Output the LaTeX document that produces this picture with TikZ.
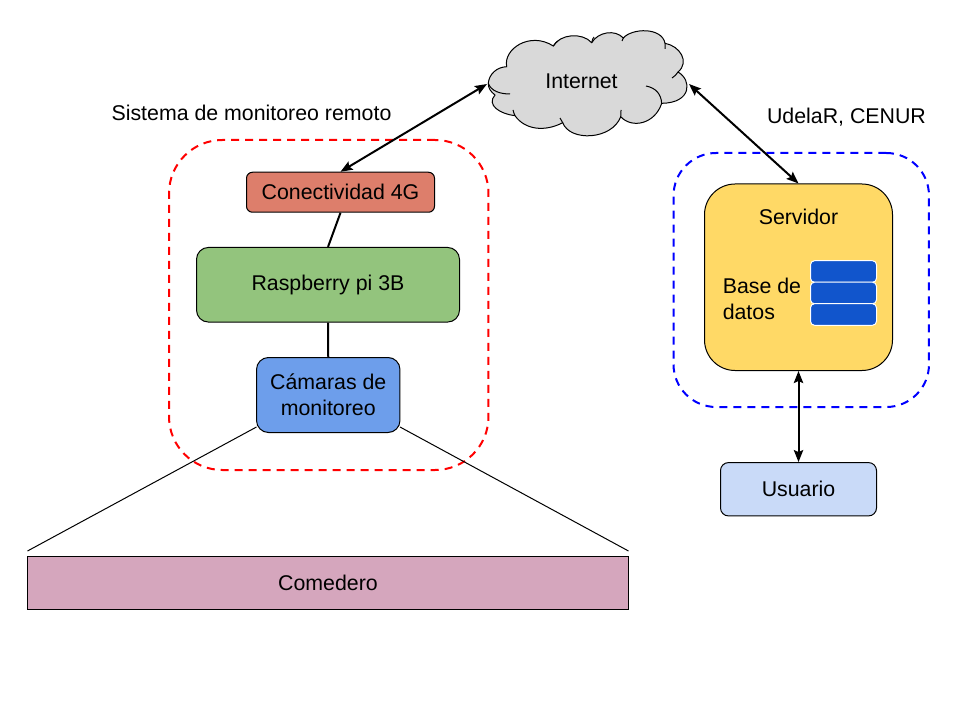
\documentclass[tikz,border=0pt]{standalone}
\usepackage{fontspec}
\setmainfont{Liberation Sans}
\usetikzlibrary{arrows.meta}
\definecolor{cconn}{HTML}{DD7E6B}
\definecolor{cgreen}{HTML}{93C47D}
\definecolor{ccam}{HTML}{6D9EEB}
\definecolor{cmauve}{HTML}{D5A6BD}
\definecolor{cuser}{HTML}{C9DAF8}
\definecolor{cserver}{HTML}{FFD966}
\definecolor{cdb}{HTML}{1155CC}
\definecolor{ccloud}{HTML}{D9D9D9}
\definecolor{cred}{HTML}{FF0000}
\definecolor{cblue}{HTML}{0000FF}
\tikzset{
  px/.style={x=0.75pt,y=-0.75pt},
  lab/.style={font=\fontsize{16pt}{19.5pt}\selectfont,text=black,inner sep=0pt,align=center},
  box/.style={draw=black,line width=0.75pt,inner sep=0pt,font=\fontsize{16pt}{19.5pt}\selectfont,align=center},
  group/.style={line width=1.5pt,dash pattern=on 6pt off 4.5pt,inner sep=0pt},
  dbrow/.style={draw=white,fill=cdb,line width=0.75pt,rounded corners=3pt,minimum width=49.5pt,minimum height=16.2pt,inner sep=0pt},
  link/.style={line width=1.5pt,black},
  bilink/.style={line width=1.5pt,black,{Stealth[length=9pt,width=7pt,inset=1.5pt]}-{Stealth[length=9pt,width=7pt,inset=1.5pt]}},
  thinlink/.style={line width=0.75pt,black}
}
\begin{document}
\begin{tikzpicture}[px]
\useasboundingbox (0,0) rectangle (960,720);
% groups
\node[group,draw=cred,rounded corners=40pt,minimum width=239.6pt,minimum height=247.5pt] (redgroup) at (328.75,305) {};
\node[group,draw=cblue,rounded corners=32pt,minimum width=191.6pt,minimum height=190.5pt] (bluegroup) at (801.25,280) {};
% cloud
\path[draw=black,fill=ccloud,line width=0.75pt]
 (488.3,83.3) .. controls (489,74) and (497,67) .. (506.7,66.7)
 .. controls (503,49) and (530,31) .. (553.3,46)
 .. controls (560,34) and (582,32) .. (591.7,42.7)
 .. controls (598,32) and (615,29) .. (623.3,38)
 .. controls (632,28) and (662,27) .. (665,43.3)
 .. controls (680,46) and (690,62) .. (678,72)
 .. controls (692,80) and (692,103) .. (661.7,103.3)
 .. controls (655,124) and (632,129) .. (620.7,116.7)
 .. controls (612,140) and (570,142) .. (562.7,122.7)
 .. controls (545,132) and (525,130) .. (515,115.7)
 .. controls (500,114) and (486,105) .. (495,95)
 .. controls (491,92) and (488,88) .. (488.3,83.3) -- cycle;
\draw[black,line width=0.75pt]
 (488.3,83.3) .. controls (491,91) and (500,94) .. (510,94)
 (553.3,46) .. controls (555,44) and (556,42) .. (558,41)
 (591.7,42.7) .. controls (592,40) and (593,38) .. (594,37)
 (623.3,38) .. controls (622,40) and (623,39) .. (622,41)
 (665,43.3) .. controls (665,46) and (665,47) .. (665,49)
 (678,72) .. controls (676,75) and (675,76) .. (672,78)
 (661.7,103.3) .. controls (661,94) and (656,88) .. (646,86)
 (620.7,116.7) .. controls (621,115) and (621,113) .. (621,110)
 (562.7,122.7) .. controls (562,121) and (561,120) .. (560,118)
 (515,115.7) .. controls (514,114) and (514,113) .. (513,110);
\coordinate (cloudleft) at (487,84);
\coordinate (cloudright) at (689,84);
\node[lab] (internet) at (581.5,81) {Internet};
% boxes
\node[box,fill=cconn,rounded corners=4.5pt,minimum width=141pt,minimum height=30pt] (conn) at (340.5,192.25) {Conectividad 4G};
\node[box,fill=cgreen,rounded corners=9pt,minimum width=197.25pt,minimum height=56pt] (rasp) at (328,284.75) {Raspberry pi 3B};
\node[box,fill=ccam,rounded corners=9pt,minimum width=107.6pt,minimum height=56.25pt] (cam) at (328.25,395) {Cámaras de\\monitoreo};
\node[box,fill=cmauve,minimum width=450.75pt,minimum height=39.75pt] (comedero) at (328,583) {Comedero};
\node[box,fill=cserver,rounded corners=23pt,minimum width=141pt,minimum height=139.9pt] (server) at (798.5,277.25) {};
\node[box,fill=cuser,rounded corners=6pt,minimum width=117pt,minimum height=40pt] (user) at (798.5,489.25) {Usuario};
\node[lab] (servlabel) at (798.5,217) {Servidor};
\node[lab,align=left,anchor=west] (dblabel) at (722.5,299) {Base de\\datos};
\node[dbrow] (db1) at (843.5,271.5) {};
\node[dbrow] (db2) at (843.5,293) {};
\node[dbrow] (db3) at (843.5,314.5) {};
\node[lab] (sys) at (251.5,113) {Sistema de monitoreo remoto};
\node[lab] (udelar) at (846.5,117) {UdelaR, CENUR};
% connectors
\draw[bilink] (conn.north) -- (cloudleft);
\draw[bilink] (cloudright) -- (server.north);
\draw[bilink] (server.south) -- (user.north);
\draw[link] (conn.south) -- (rasp.north);
\draw[link] (rasp.south) -- (cam.north);
\coordinate (comleft) at (27.5,551);
\coordinate (comright) at (628.5,551);
\coordinate (camleft) at (256.5,427);
\coordinate (camright) at (400,427);
\draw[thinlink] (camleft) -- (comleft);
\draw[thinlink] (camright) -- (comright);
\end{tikzpicture}
\end{document}
